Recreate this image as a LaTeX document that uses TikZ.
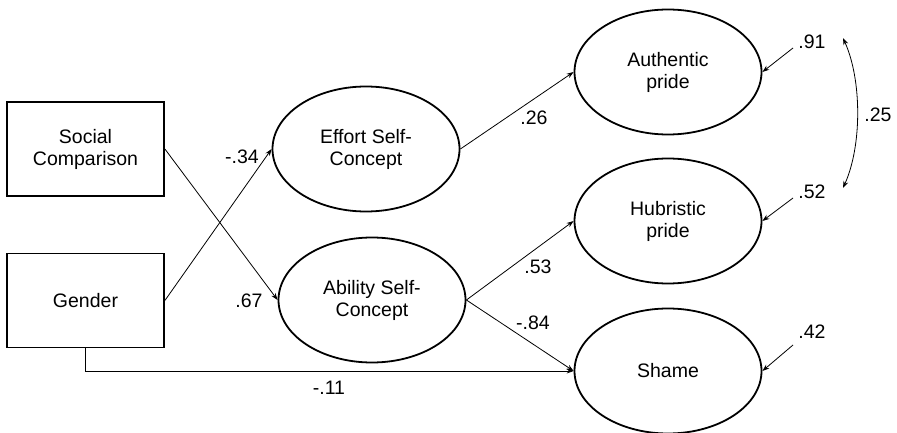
\documentclass[tikz,border=0pt]{standalone}
\usepackage{fontspec}
\setmainfont{Liberation Sans}
\usetikzlibrary{shapes.geometric,arrows.meta}
\tikzset{
  obs/.style={draw, line width=1.8pt, minimum width=157pt, minimum height=94pt, inner sep=0pt, align=center, font=\fontsize{19.5}{22}\selectfont},
  lat/.style={draw, ellipse, line width=1.8pt, minimum width=187pt, minimum height=125pt, inner sep=0pt, align=center, font=\fontsize{19.5}{22}\selectfont},
  path/.style={line width=0.8pt, -{Stealth[length=7pt,width=5pt]}},
  lab/.style={font=\fontsize{19.5}{22}\selectfont, inner sep=0pt}
}
\begin{document}
\begin{tikzpicture}[x=1pt,y=-1pt]
\useasboundingbox (0,0) rectangle (897,433);
\node[obs] (social) at (85.5,149) {Social\\Comparison};
\node[obs] (gender) at (85.5,300.5) {Gender};
\node[lat] (effort) at (366,149) {Effort Self-\\Concept};
\node[lat] (ability) at (372,300) {Ability Self-\\Concept};
\node[lat] (auth) at (668,72) {Authentic\\pride};
\node[lat] (hub) at (668,221) {Hubristic\\pride};
\node[lat] (shame) at (668,371) {Shame};

\draw[path] (gender.east) -- (effort.west);
\draw[path] (social.east) -- (ability.west);
\draw[path] (effort.east) -- (auth.west);
\draw[path] (ability.east) -- (hub.west);
\draw[path] (ability.east) -- (shame.west);
\draw[path] (gender.south) |- (shame.west);

\coordinate (r1) at (793,48);
\coordinate (r2) at (793,198);
\coordinate (r3) at (793,345);
\draw[path] (r1) -- (auth.east);
\draw[path] (r2) -- (hub.east);
\draw[path] (r3) -- (shame.east);

\coordinate (c1) at (843,38);
\coordinate (c2) at (843,188);
\draw[line width=0.8pt, {Stealth[length=7pt,width=5pt]}-{Stealth[length=7pt,width=5pt]}] (c1) .. controls (862,80) and (862,146) .. (c2);

\node[lab] (l1) at (242,157) {-.34};
\node[lab] (l2) at (249,301) {.67};
\node[lab] (l3) at (534,118) {.26};
\node[lab] (l4) at (538,267) {.53};
\node[lab] (l5) at (533,323) {-.84};
\node[lab] (l6) at (329,388) {-.11};
\node[lab] (l7) at (812,42) {.91};
\node[lab] (l8) at (812,192) {.52};
\node[lab] (l9) at (812,332) {.42};
\node[lab] (l10) at (878,115) {.25};
\end{tikzpicture}
\end{document}
